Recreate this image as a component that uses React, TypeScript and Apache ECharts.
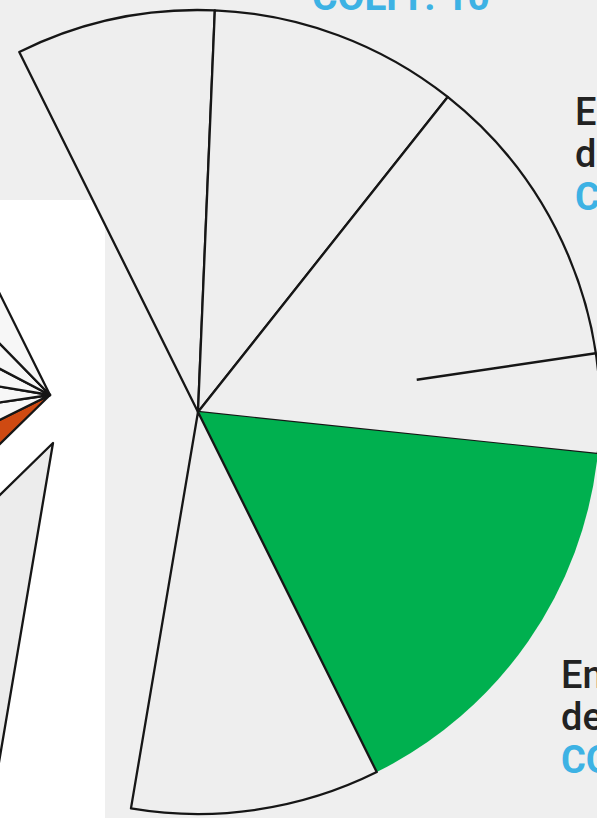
import React, { useEffect, useRef } from "react";
import * as echarts from "echarts";

// Right pie: final exams (60 of 100 coefficients); last value is the hidden gap
const rightNames = ["Philosophie", "Épreuve anticipée de français", "Enseignement de spécialité 1", "Enseignement de spécialité 2", "Grand oral", "Contrôle continu"];
const rightValues = [8, 10, 16, 16, 10, 40];
const rightHidden = [false, false, false, false, false, true];
const rightColors = ["#eeeeee", "#eeeeee", "#eeeeee", "#00b04f", "#eeeeee", "transparent"];
// Partial divider inside "spécialité 1" (value position inside the slice)
const specialiteSplit = 12;

// Left pie: continuous assessment (40 of 100)
const leftNames = ["Épreuves finales", "Bulletins scolaires", "E3C 1", "E3C 2", "E3C 3", "E3C 4", "E3C 5", "E3C 6"];
const leftValues = [60, 10, 5, 5, 5, 5, 5, 5];
const leftHidden = [true, true, false, false, false, false, false, false];
const leftColors = ["transparent", "transparent", "#cf4a12", "#f7f7f7", "#f7f7f7", "#f7f7f7", "#f7f7f7", "#f7f7f7"];

// Exploded slice "Bulletins scolaires"
const explodedValues = [60, 10, 30];
const explodedHidden = [true, false, true];

// Texts
const topLabel = "COEFF. 10";
const labelSpe1 = ["Enseignement", "de spécialité", "COEFF. 16"];
const labelSpe2 = ["Enseignement", "de spécialité", "COEFF. 16"];
const labelColors = ["#222222", "#222222", "#3db2e4"];

const START = 116.4;
const R = 402;
const C_RIGHT = [198, 412];
const C_LEFT = [50, 395];
const C_EXPL = [53, 443];
const EDGE = "#161616";

function buildData(names: string[], values: number[], hidden: boolean[], colors: string[]) {
  return values.map((v, i) => ({
    name: names[i],
    value: v,
    itemStyle: hidden[i]
      ? { color: "rgba(0,0,0,0)", borderWidth: 0 }
      : {
          color: colors[i],
          borderColor: EDGE,
          borderWidth: colors[i] === "#00b04f" ? 0 : 2.3,
        },
  }));
}

export default function App() {
  const ref = useRef<HTMLDivElement>(null);
  useEffect(() => {
    if (!ref.current) return;
    const chart = echarts.init(ref.current, null, { renderer: "svg" });
    const total = rightValues.reduce((a, b) => a + b, 0);
    const splitPos = rightValues[0] + rightValues[1] + specialiteSplit;
    const ang = ((START - (splitPos / total) * 360) * Math.PI) / 180;
    const rIn = R * 0.55;
    const lineShape = {
      x1: C_RIGHT[0] + rIn * Math.cos(ang),
      y1: C_RIGHT[1] - rIn * Math.sin(ang),
      x2: C_RIGHT[0] + R * Math.cos(ang),
      y2: C_RIGHT[1] - R * Math.sin(ang),
    };
    const textFont = (i: number) => (i === 2 ? "bold 38px Roboto" : "500 38px Roboto");
    const lines = (arr: string[], x: number, y0: number) =>
      arr.map((t, i) => ({
        type: "text",
        x,
        y: y0 + i * 42.5,
        z: 10,
        silent: true,
        style: {
          text: t,
          fill: labelColors[i],
          font: textFont(i),
          align: "left",
          verticalAlign: "middle",
        },
      }));
    const commonPie = {
      type: "pie",
      radius: [0, R],
      startAngle: START,
      clockwise: true,
      silent: true,
      avoidLabelOverlap: false,
      label: { show: false },
      labelLine: { show: false },
      emphasis: { disabled: true },
    };
    chart.setOption({
      animation: false,
      backgroundColor: "#efefef",
      graphic: [
        {
          type: "rect",
          z: -10,
          shape: { x: 0, y: 200, width: 105, height: 618 },
          style: { fill: "#ffffff" },
          silent: true,
        },
        {
          type: "line",
          z: 10,
          shape: lineShape,
          style: { stroke: EDGE, lineWidth: 2.5 },
          silent: true,
        },
        {
          type: "text",
          x: 312,
          y: -3,
          z: 10,
          silent: true,
          style: { text: topLabel, fill: "#3db2e4", font: "bold 39px Roboto", align: "left", verticalAlign: "middle" },
        },
        ...lines(labelSpe1, 575, 111.5),
        ...lines(labelSpe2, 561, 674.5),
      ],
      series: [
        { ...commonPie, name: "Contrôle continu", center: C_LEFT, data: buildData(leftNames, leftValues, leftHidden, leftColors) },
        {
          ...commonPie,
          name: "Bulletins",
          center: C_EXPL,
          data: buildData(["a", "Bulletins scolaires", "b"], explodedValues, explodedHidden, ["transparent", "#ececec", "transparent"]),
        },
        { ...commonPie, name: "Épreuves finales", center: C_RIGHT, data: buildData(rightNames, rightValues, rightHidden, rightColors) },
      ],
    });
    return () => chart.dispose();
  }, []);
  return <div ref={ref} style={{ position: "absolute", left: 0, top: 0, width: 597, height: 818 }} />;
}
